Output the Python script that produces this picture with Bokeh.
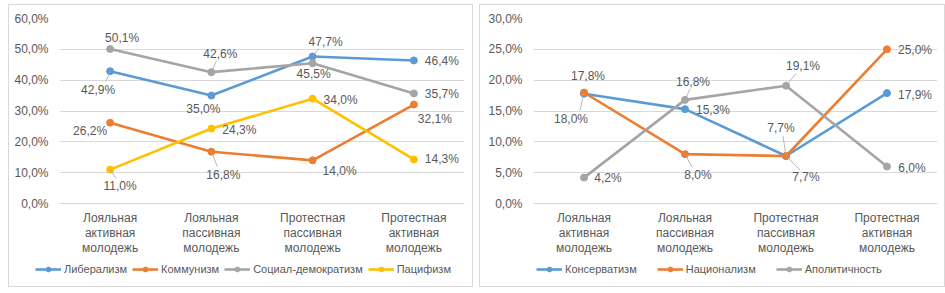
from bokeh.plotting import figure
from bokeh.layouts import row, column
from bokeh.models import FactorRange, Range1d, FixedTicker, Legend, LegendItem, ColumnDataSource
from bokeh.core.properties import value
from bokeh.embed import file_html
from bokeh.resources import INLINE

categories = ["Лояльная\nактивная\nмолодежь", "Лояльная\nпассивная\nмолодежь",
              "Протестная\nпассивная\nмолодежь", "Протестная\nактивная\nмолодежь"]

# left chart
left_names = ["Либерализм", "Коммунизм", "Социал-демократизм", "Пацифизм"]
liberalism = [42.9, 35.0, 47.7, 46.4]
communism = [26.2, 16.8, 14.0, 32.1]
socdem = [50.1, 42.6, 45.5, 35.7]
pacifism = [11.0, 24.3, 34.0, 14.3]
left_ticks = [0, 10, 20, 30, 40, 50, 60]
left_tick_labels = ["0,0%", "10,0%", "20,0%", "30,0%", "40,0%", "50,0%", "60,0%"]

# right chart
right_names = ["Консерватизм", "Национализм", "Аполитичность"]
conservatism = [17.8, 15.3, 7.7, 17.9]
nationalism = [18.0, 8.0, 7.7, 25.0]
apolitical = [4.2, 16.8, 19.1, 6.0]
right_ticks = [0, 5, 10, 15, 20, 25, 30]
right_tick_labels = ["0,0%", "5,0%", "10,0%", "15,0%", "20,0%", "25,0%", "30,0%"]

BLUE, ORANGE, GREY, YELLOW = "#5B9BD5", "#ED7D31", "#A5A5A5", "#FFC000"
TXT = "#595959"
FONT = "Liberation Sans"
BOX = "1px solid #d9d9d9"

# label offsets in screen px (dx, dy) per series/point
left_offsets = [
    [(-12, 19), (-8, 13), (13, -14), (28, 1)],
    [(-20, 8), (12, 23), (27, 11), (21, 14)],
    [(12, -11), (9, -18), (1, 11), (28, 1)],
    [(10, 16), (28, 1), (28, 1), (28, 0)],
]
right_offsets = [
    [(4, -18), (28, 1), (-5, -28), (28, 2)],
    [(-13, 26), (13, 21), (20, 21), (28, 1)],
    [(24, 0), (8, -18), (17, -20), (25, 1)],
]
# leader lines: (series, point, dx_end, dy_end) in px
left_leaders = [(0, 0, -4, 10), (2, 1, 5, -11), (0, 2, 6, -8), (1, 1, 6, 15), (3, 0, 6, 9)]
right_leaders = [(1, 0, -4, 18), (2, 1, 5, -11), (2, 2, 10, -12), (0, 2, -3, -20),
                 (1, 1, 7, 13), (1, 2, 14, 14)]


def fmt(v):
    return ("%.1f" % v).replace(".", ",") + "%"


def make_chart(width, min_left, min_right, y_max, ticks, tick_labels, names, series, colors,
               offsets, leaders, legend_x, legend_spacing):
    p = figure(x_range=FactorRange(*categories), y_range=Range1d(0, y_max),
               width=width, height=254, output_backend="svg", toolbar_location=None,
               min_border_left=min_left, min_border_right=min_right,
               min_border_top=13, min_border_bottom=56, outline_line_color=None,
               background_fill_color="white", border_fill_color="white")
    p.styles = {"border-top": BOX, "border-left": BOX, "border-right": BOX,
                "box-sizing": "border-box"}
    p.yaxis.ticker = FixedTicker(ticks=ticks)
    p.yaxis.major_label_overrides = dict(zip(ticks, tick_labels))
    p.ygrid.ticker = FixedTicker(ticks=ticks)
    p.ygrid.grid_line_color = "#d9d9d9"
    p.xgrid.grid_line_color = None
    for ax in (p.xaxis, p.yaxis):
        ax.major_tick_line_color = None
        ax.minor_tick_line_color = None
        ax.major_label_text_font = FONT
        ax.major_label_text_font_size = "12px"
        ax.major_label_text_color = TXT
    p.yaxis.major_label_standoff = 5
    p.yaxis.axis_line_color = None
    p.xaxis.axis_line_color = "#d9d9d9"
    p.xaxis.major_label_standoff = 1
    p.xaxis.major_label_text_line_height = 1.1

    ppx = 404.0 / len(categories)
    ppy = 185.0 / y_max
    for name, vals, col in zip(names, series, colors):
        src = ColumnDataSource(dict(x=categories, y=vals))
        p.line("x", "y", source=src, line_color=col, line_width=2.6)
        p.scatter("x", "y", source=src, size=7, fill_color=col, line_color=col)

    lx0, ly0, lx1, ly1 = [], [], [], []
    for si, pi, dx, dy in leaders:
        v = series[si][pi]
        lx0.append([categories[pi], 0.0])
        ly0.append(v)
        lx1.append([categories[pi], dx / ppx])
        ly1.append(v - dy / ppy)
    p.segment(x0="x0", y0="y0", x1="x1", y1="y1",
              source=ColumnDataSource(dict(x0=lx0, y0=ly0, x1=lx1, y1=ly1)),
              line_color="#A6A6A6", line_width=0.8)

    for vals, offs in zip(series, offsets):
        src = ColumnDataSource(dict(x=categories, y=vals, t=[fmt(v) for v in vals],
                                    dx=[o[0] for o in offs], dy=[o[1] for o in offs]))
        p.text("x", "y", text="t", source=src, x_offset="dx", y_offset="dy",
               text_align="center", text_baseline="middle", text_font=value(FONT),
               text_font_size="12px", text_color=TXT)

    # legend strip under the chart (same series; the data lies outside its view)
    lg = figure(x_range=FactorRange(*categories), y_range=Range1d(1000, 1001),
                width=width, height=29, output_backend="svg", toolbar_location=None,
                x_axis_location=None, y_axis_location=None,
                min_border_left=0, min_border_right=0, min_border_top=0, min_border_bottom=0,
                outline_line_color=None, background_fill_color="white",
                border_fill_color="white")
    aligned = True
    if "frame_align" in lg.properties():
        lg.frame_align = False
        aligned = False
    lg.styles = {"border-bottom": BOX, "border-left": BOX, "border-right": BOX,
                 "box-sizing": "border-box"}
    lg.grid.visible = False
    items = []
    for name, vals, col in zip(names, series, colors):
        src = ColumnDataSource(dict(x=categories, y=vals))
        lr = lg.line("x", "y", source=src, line_color=col, line_width=2.6)
        sr = lg.scatter("x", "y", source=src, size=7, fill_color=col, line_color=col)
        items.append(LegendItem(label=name, renderers=[lr, sr]))
    lx = legend_x - (min_left if aligned else 0)
    legend = Legend(items=items, orientation="horizontal", location=(lx, 12),
                    border_line_color=None, background_fill_alpha=0,
                    label_text_font=FONT, label_text_font_size="11px", label_text_color=TXT,
                    glyph_width=26, glyph_height=12, spacing=legend_spacing, label_standoff=3,
                    padding=2, margin=0)
    lg.add_layout(legend, "center")
    return column(p, lg, spacing=0)


c1 = make_chart(465, 50, 10, 60, left_ticks, left_tick_labels, left_names,
                [liberalism, communism, socdem, pacifism], [BLUE, ORANGE, GREY, YELLOW],
                left_offsets, left_leaders, 26, 5)
c2 = make_chart(466, 53, 9, 30, right_ticks, right_tick_labels, right_names,
                [conservatism, nationalism, apolitical], [BLUE, ORANGE, GREY],
                right_offsets, right_leaders, 56, 20)
c1.margin = (4, 0, 0, 8)
c2.margin = (4, 0, 0, 6)

layout = row(c1, c2, spacing=0)
with open("out.html", "w") as f:
    f.write(file_html(layout, INLINE))
